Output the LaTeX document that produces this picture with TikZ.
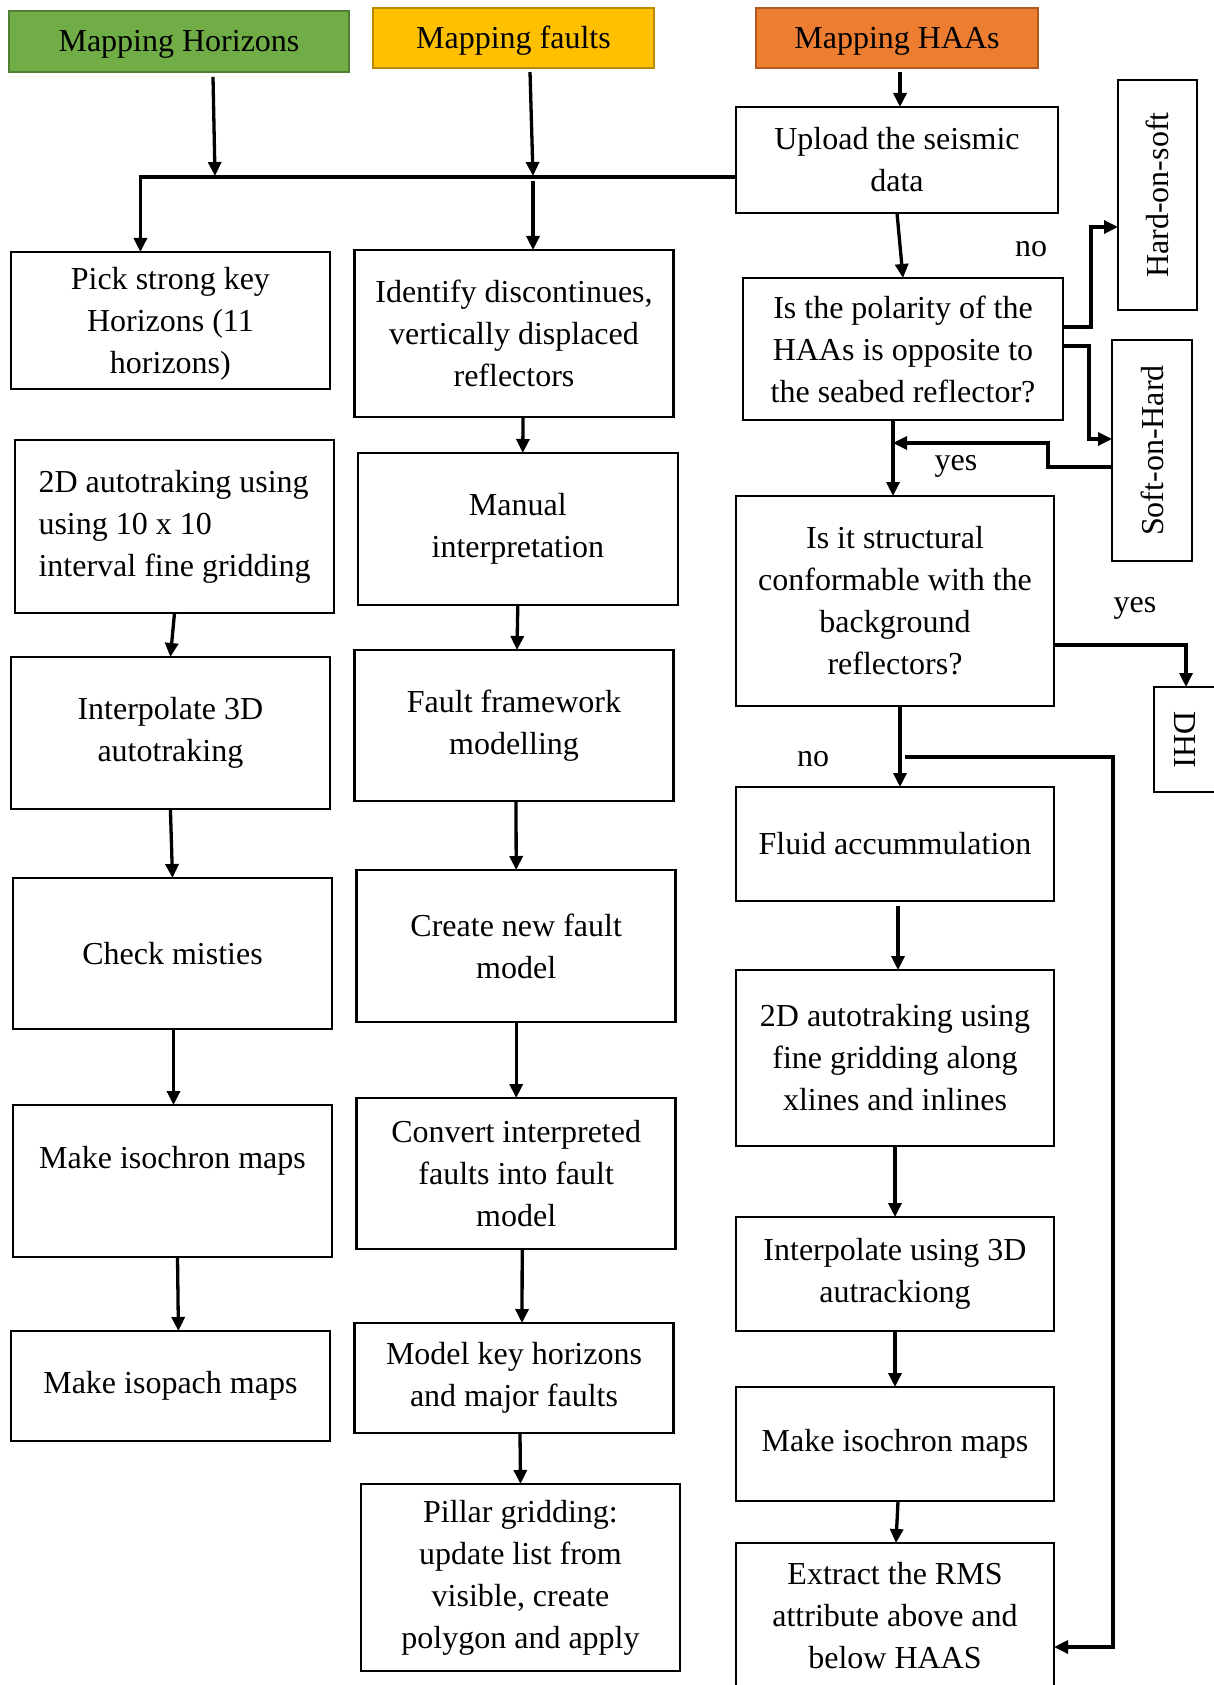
\documentclass[tikz,border=0pt]{standalone}
\usepackage{fontspec}
\setmainfont{Liberation Serif}
\usetikzlibrary{arrows.meta,calc}
\definecolor{hgreen}{HTML}{70AD47}
\definecolor{hgreenD}{HTML}{507E32}
\definecolor{hgold}{HTML}{FFC000}
\definecolor{hgoldD}{HTML}{BC8C00}
\definecolor{horange}{HTML}{ED7D31}
\definecolor{horangeD}{HTML}{AE5A21}
\begin{document}
\begin{tikzpicture}[x=1pt,y=-1pt,
  every node/.style={font=\fontsize{32}{42}\selectfont, inner sep=0pt, outer sep=0pt},
  box/.style={draw=black, line width=2.6pt, align=center},
  hdr/.style={line width=2.6pt, align=center, text depth=1pt},
  arr/.style={line width=3.3pt, -{Triangle[length=14pt,width=13pt]}},
  lbl/.style={}
]
\useasboundingbox (0,0) rectangle (1214,1685);
% headers
\node[hdr, fill=hgreen, draw=hgreenD, minimum width=340pt, minimum height=61pt] (mh) at (179,41.5) {Mapping Horizons};
\node[hdr, fill=hgold, draw=hgoldD, minimum width=281pt, minimum height=60pt] (mf) at (513.5,38) {Mapping faults};
\node[hdr, fill=horange, draw=horangeD, minimum width=282pt, minimum height=60pt] (ha) at (897,38) {Mapping HAAs};
% column 1
\node[box, text depth=-15pt, minimum width=319pt, minimum height=137pt] (p1) at (170.4,320.5) {Pick strong key\\Horizons (11\\horizons)};
\node[box, align=left, minimum width=319pt, minimum height=173pt] (p2) at (174.5,526.5) {2D autotraking using\\using 10 x 10\\interval fine gridding};
\node[box, minimum width=319pt, minimum height=152pt] (p3) at (170.4,733) {Interpolate 3D\\autotraking};
\node[box, minimum width=319pt, minimum height=151pt] (p4) at (172.5,953.5) {Check misties};
\node[box, minimum width=319pt, minimum height=152pt] (p5) at (172.5,1181) {Make isochron maps\\[6pt]\mbox{}};
\node[box, minimum width=319pt, minimum height=110pt] (p6) at (170.4,1386) {Make isopach maps};
% column 2
\node[box, minimum width=319pt, minimum height=167pt] (c1) at (514,333.5) {Identify discontinues,\\vertically displaced\\reflectors};
\node[box, minimum width=320pt, minimum height=152pt] (c2) at (517.8,529) {Manual\\interpretation};
\node[box, minimum width=319pt, minimum height=151pt] (c3) at (514,725.5) {Fault framework\\modelling};
\node[box, minimum width=319pt, minimum height=152pt] (c4) at (516.2,946) {Create new fault\\model};
\node[box, minimum width=319pt, minimum height=151pt] (c5) at (516.2,1173.5) {Convert interpreted\\faults into fault\\model};
\node[box, minimum width=319pt, minimum height=110pt] (c6) at (514,1378) {Model key horizons\\and major faults};
\node[box, minimum width=319pt, minimum height=187pt] (c7) at (520.5,1577.5) {Pillar gridding:\\update list from\\visible, create\\polygon and apply};
% column 3
\node[box, minimum width=322pt, minimum height=106pt] (up) at (897,160) {Upload the seismic\\data};
\node[box, minimum width=320pt, minimum height=142pt] (pol) at (903,349) {Is the polarity of the\\HAAs is opposite to\\the seabed reflector?};
\node[box, minimum width=318pt, minimum height=210pt] (str) at (895,601) {Is it structural\\conformable with the\\background\\reflectors?};
\node[box, minimum width=318pt, minimum height=114pt] (fl) at (895,844) {Fluid accummulation};
\node[box, minimum width=318pt, minimum height=176pt] (d2) at (895,1058) {2D autotraking using\\fine gridding along\\xlines and inlines};
\node[box, minimum width=318pt, minimum height=114pt] (ip) at (895,1274) {Interpolate using 3D\\autrackiong};
\node[box, minimum width=318pt, minimum height=114pt] (iso) at (895,1444) {Make isochron maps};
\node[box, minimum width=318pt, minimum height=145pt] (ext) at (895,1615.5) {Extract the RMS\\attribute above and\\below HAAS};
% right side
\node[box, minimum width=79pt, minimum height=230pt] (hos) at (1157.5,195) {\rotatebox{90}{Hard-on-soft}};
\node[box, minimum width=80pt, minimum height=221pt] (soh) at (1152,450.5) {\rotatebox{90}{Soft-on-Hard}};
\node[box, minimum width=62pt, minimum height=105pt] (dhi) at (1185,739.5) {\rotatebox{-90}{DHI}};
% labels
\node[lbl] (l1) at (1031,249) {no};
\node[lbl] (l2) at (956,466) {yes};
\node[lbl] (l3) at (1135,608) {yes};
\node[lbl] (l4) at (813,759) {no};
% coordinates
\coordinate (jH) at (215,176);
\coordinate (jF) at (533,176);
\coordinate (yj) at (893,443);
\coordinate (fb) at (905,757);
% header connectors
\draw[arr] ([xshift=34pt,yshift=-5pt]mh.south) -- (jH);
\draw[arr] ([xshift=16.5pt,yshift=-4pt]mf.south) -- (jF);
\draw[arr] ([xshift=3pt,yshift=-4pt]ha.south) -- ([xshift=3pt]up.north);
\draw[arr] ([yshift=-17pt]up.west) -| ([xshift=-30pt]p1.north);
\draw[arr] ([yshift=-5pt]jF) -- ([xshift=19pt]c1.north);
% column 1 connectors
\draw[arr] (p2.south) -- (p3.north);
\draw[arr] (p3.south) -- (p4.north);
\draw[arr] ([xshift=1pt]p4.south) -- ([xshift=1pt]p5.north);
\draw[arr] ([xshift=5pt]p5.south) -- ([xshift=8pt]p6.north);
% column 2 connectors
\draw[arr] ([xshift=9pt]c1.south) -- ([xshift=5pt]c2.north);
\draw[arr] (c2.south) -- ([xshift=3pt]c3.north);
\draw[arr] ([xshift=2pt]c3.south) -- (c4.north);
\draw[arr] (c4.south) -- (c5.north);
\draw[arr] ([xshift=6pt]c5.south) -- ([xshift=8pt]c6.north);
\draw[arr] ([xshift=6pt]c6.south) -- (c7.north);
% column 3 connectors
\draw[arr] (up.south) -- (pol.north);
\draw[arr] (yj |- pol.south) -- (yj |- str.north);
\draw[arr] ([xshift=5pt]str.south) -- ([xshift=5pt]fl.north);
\draw[arr] ([xshift=3pt,yshift=-5pt]fl.south) -- ([xshift=3pt]d2.north);
\draw[arr] (d2.south) -- (ip.north);
\draw[arr] (ip.south) -- (iso.north);
\draw[arr] ([xshift=3pt]iso.south) -- ([xshift=1pt]ext.north);
% side connectors
\draw[arr] ([yshift=22pt]pol.east) -- ++(28,0) |- ([yshift=-32pt]hos.west);
\draw[arr] ([yshift=3pt]pol.east) -- ++(26,0) |- ([yshift=11.5pt]soh.west);
\draw[arr] ([yshift=-16.5pt]soh.west) -- ++(-64,0) |- (yj);
\draw[arr] ([yshift=-44pt]str.east) -| ([xshift=1pt]dhi.north);
\draw[arr] (fb) -- ++(208,0) |- ([yshift=-31.5pt]ext.east);
\end{tikzpicture}
\end{document}
